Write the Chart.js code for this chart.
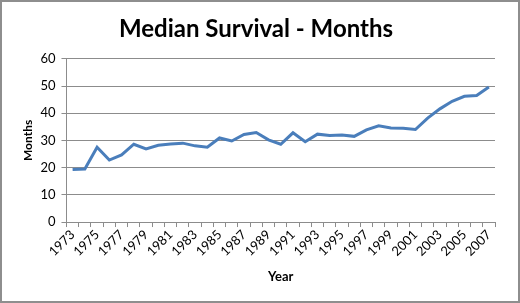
<!DOCTYPE html>
<html>
<head>
<meta charset="utf-8">
<script src="https://cdn.jsdelivr.net/npm/chart.js@4"></script>
<style>
  html, body { margin: 0; padding: 0; background: #fff; }
  #wrap { width: 520px; height: 303px; box-sizing: border-box; border: 2px solid #8e8e8e; background: #fff; }
  canvas { display: block; }
</style>
</head>
<body>
<div id="wrap"><canvas id="chart" width="516" height="299"></canvas></div>
<script>
const years = ["1973","1974","1975","1976","1977","1978","1979","1980","1981","1982",
               "1983","1984","1985","1986","1987","1988","1989","1990","1991","1992",
               "1993","1994","1995","1996","1997","1998","1999","2000","2001","2002",
               "2003","2004","2005","2006","2007"];
const months = [19.3, 19.5, 27.5, 22.8, 24.7, 28.6, 26.9, 28.2, 28.7, 29.0,
                28.0, 27.5, 30.9, 29.8, 32.2, 32.9, 30.2, 28.6, 32.8, 29.5,
                32.3, 31.8, 32.0, 31.5, 33.9, 35.4, 34.6, 34.5, 34.0, 38.2,
                41.6, 44.4, 46.2, 46.5, 49.6];

const font = "Lato, 'Open Sans', sans-serif";

const data = {
    labels: years,
    datasets: [{
        label: 'Median Survival',
        data: months,
        borderColor: '#4a7ebb',
        borderWidth: 3,
        pointRadius: 0,
        tension: 0,
        fill: false
    }]
};

const config = {
    type: 'line',
    data: data,
    options: {
        responsive: false,
        animation: false,
        layout: { padding: { left: 15, right: 23, top: 6, bottom: 12 } },
        plugins: {
            legend: { display: false },
            tooltip: { enabled: false },
            title: {
                display: true,
                text: 'Median Survival - Months',
                color: '#000',
                font: { family: font, size: 24, weight: 'bold' },
                padding: { top: 7, bottom: 15 }
            }
        },
        scales: {
            x: {
                offset: true,
                border: { color: '#8c8c8c', width: 1 },
                grid: { offset: true, drawOnChartArea: false, drawTicks: true, tickLength: 5, color: '#8c8c8c' },
                ticks: {
                    autoSkip: false,
                    maxRotation: 45,
                    minRotation: 45,
                    color: '#000',
                    padding: 0,
                    font: { family: font, size: 13 },
                    callback: function (v, i) { return i % 2 === 0 ? years[i] : ''; }
                },
                title: {
                    display: true,
                    text: 'Year',
                    color: '#000',
                    font: { family: font, size: 13, weight: 'bold' },
                    padding: { top: 10 }
                }
            },
            y: {
                min: 0,
                max: 60,
                afterFit: function (scale) { scale.width -= 5; },
                border: { color: '#8c8c8c', width: 1 },
                grid: { color: '#8c8c8c', tickLength: 5 },
                ticks: {
                    stepSize: 10,
                    color: '#000',
                    padding: 6,
                    font: { family: font, size: 13 }
                },
                title: {
                    display: true,
                    text: 'Months',
                    color: '#000',
                    font: { family: font, size: 12, weight: 'bold' },
                    padding: { bottom: 4 }
                }
            }
        }
    }
};

var chart = new Chart(document.getElementById('chart'), config);
</script>
</body>
</html>
